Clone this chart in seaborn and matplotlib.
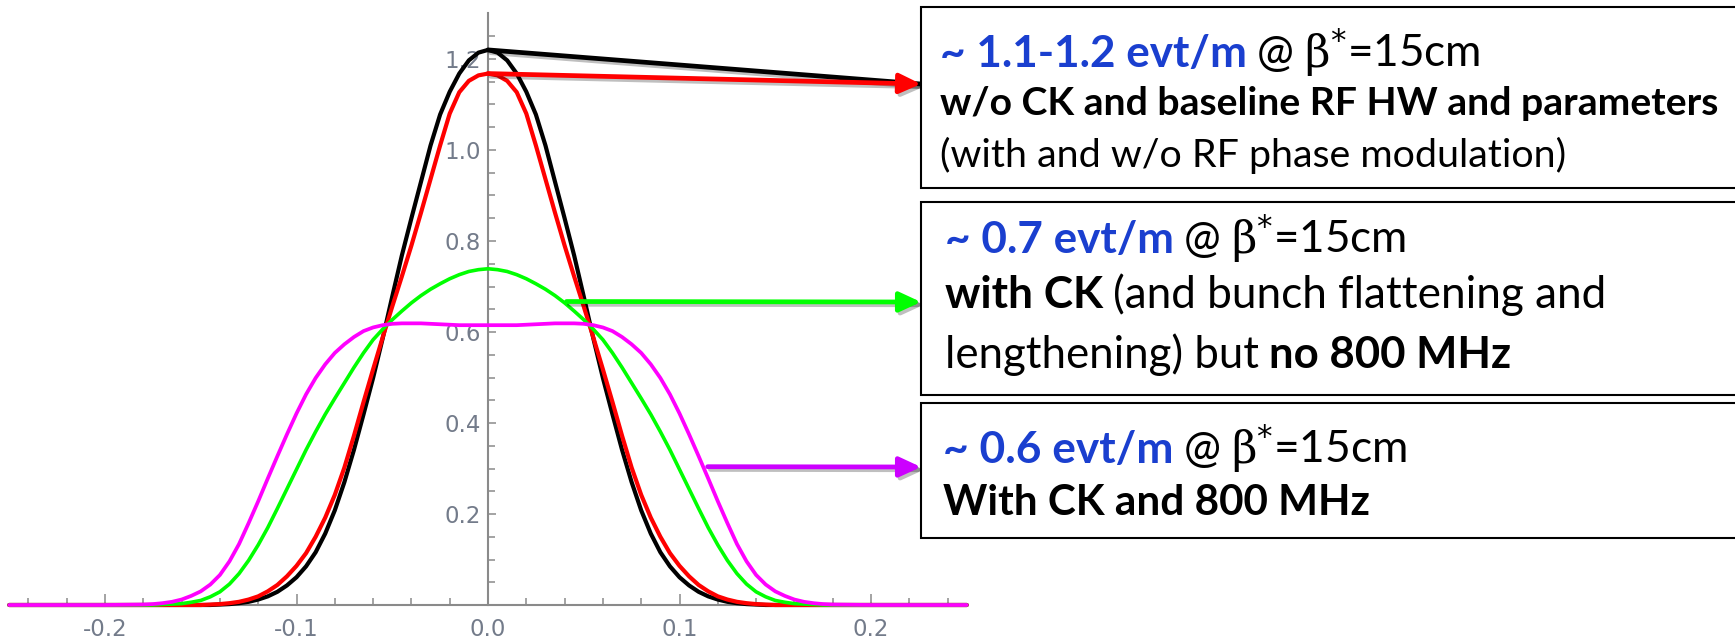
import numpy as np
import pandas as pd
import matplotlib
matplotlib.use("Agg")
import matplotlib.pyplot as plt
import matplotlib.patheffects as pe
from matplotlib.patches import Rectangle
from matplotlib.ticker import FixedLocator
import seaborn as sns

# ---------------- data ----------------
x_pos = [-0.25, -0.2,
         -0.18, -0.175, -0.17, -0.165, -0.16, -0.155, -0.15, -0.145, -0.14, -0.135,
         -0.13, -0.125, -0.12, -0.115, -0.11, -0.105, -0.1, -0.095, -0.09, -0.085,
         -0.08, -0.075, -0.07, -0.065, -0.06, -0.055, -0.05, -0.045, -0.04, -0.035,
         -0.03, -0.025, -0.02, -0.015, -0.01, -0.005, 0.0,
         0.005, 0.01, 0.015, 0.02, 0.025, 0.03, 0.035, 0.04, 0.045, 0.05,
         0.055, 0.06, 0.065, 0.07, 0.075, 0.08, 0.085, 0.09, 0.095, 0.1,
         0.105, 0.11, 0.115, 0.12, 0.125, 0.13, 0.135, 0.14, 0.145, 0.15,
         0.155, 0.16, 0.165, 0.17, 0.175, 0.18,
         0.2, 0.25]

black_no_ck = [0, 0,
               0, 0, 0, 0, 0, 0, 0, 0, 0.001, 0.002,
               0.004, 0.007, 0.012, 0.019, 0.029, 0.043, 0.061, 0.085, 0.116, 0.157,
               0.208, 0.270, 0.341, 0.419, 0.499, 0.586, 0.678, 0.768, 0.850, 0.930,
               1.010, 1.078, 1.128, 1.168, 1.197, 1.214, 1.220,
               1.214, 1.197, 1.168, 1.128, 1.078, 1.010, 0.930, 0.850, 0.768, 0.678,
               0.586, 0.499, 0.419, 0.341, 0.270, 0.208, 0.157, 0.116, 0.085, 0.061,
               0.043, 0.029, 0.019, 0.012, 0.007, 0.004, 0.002, 0.001, 0, 0,
               0, 0, 0, 0, 0, 0,
               0, 0]

red_no_ck_mod = [0, 0,
                 0, 0, 0, 0, 0, 0, 0, 0.001, 0.002, 0.004,
                 0.007, 0.012, 0.019, 0.030, 0.044, 0.063, 0.086, 0.114, 0.150, 0.192,
                 0.242, 0.302, 0.372, 0.446, 0.518, 0.588, 0.656, 0.722, 0.790, 0.862,
                 0.936, 1.010, 1.080, 1.127, 1.152, 1.164, 1.168,
                 1.164, 1.152, 1.127, 1.080, 1.010, 0.936, 0.862, 0.790, 0.722, 0.656,
                 0.588, 0.518, 0.446, 0.372, 0.302, 0.242, 0.192, 0.150, 0.114, 0.086,
                 0.063, 0.044, 0.030, 0.019, 0.012, 0.007, 0.004, 0.002, 0.001, 0,
                 0, 0, 0, 0, 0, 0,
                 0, 0]

green_ck = [0, 0,
            0.000, 0.000, 0.001, 0.002, 0.003, 0.006, 0.010, 0.018, 0.029, 0.046,
            0.069, 0.098, 0.132, 0.170, 0.212, 0.255, 0.298, 0.341, 0.381, 0.419,
            0.454, 0.488, 0.522, 0.554, 0.583, 0.606, 0.627, 0.646, 0.664, 0.680,
            0.694, 0.706, 0.717, 0.726, 0.733, 0.737, 0.739,
            0.737, 0.733, 0.726, 0.717, 0.706, 0.694, 0.680, 0.664, 0.646, 0.627,
            0.606, 0.583, 0.554, 0.522, 0.488, 0.454, 0.419, 0.381, 0.341, 0.298,
            0.255, 0.212, 0.170, 0.132, 0.098, 0.069, 0.046, 0.029, 0.018, 0.010,
            0.006, 0.003, 0.002, 0.001, 0.000, 0.000,
            0, 0]

magenta_ck_800 = [0, 0,
                  0.001, 0.002, 0.004, 0.007, 0.012, 0.020, 0.030, 0.045, 0.066, 0.096,
                  0.134, 0.180, 0.228, 0.278, 0.327, 0.375, 0.421, 0.463, 0.499, 0.529,
                  0.554, 0.573, 0.589, 0.602, 0.610, 0.615, 0.618, 0.619, 0.619, 0.619,
                  0.618, 0.617, 0.616, 0.615, 0.615, 0.615, 0.615,
                  0.615, 0.615, 0.615, 0.616, 0.617, 0.618, 0.619, 0.619, 0.619, 0.618,
                  0.615, 0.610, 0.602, 0.589, 0.573, 0.554, 0.529, 0.499, 0.463, 0.421,
                  0.375, 0.327, 0.278, 0.228, 0.180, 0.134, 0.096, 0.066, 0.045, 0.030,
                  0.020, 0.012, 0.007, 0.004, 0.002, 0.001,
                  0, 0]

x_ticks = [-0.2, -0.1, 0.0, 0.1, 0.2]
x_tick_labels = ["-0.2", "-0.1", "0.0", "0.1", "0.2"]
x_minor_ticks = [-0.24, -0.22, -0.18, -0.16, -0.14, -0.12, -0.08, -0.06, -0.04, -0.02,
                 0.02, 0.04, 0.06, 0.08, 0.12, 0.14, 0.16, 0.18, 0.22, 0.24]
y_ticks = [0.2, 0.4, 0.6, 0.8, 1.0, 1.2]
y_tick_labels = ["0.2", "0.4", "0.6", "0.8", "1.0", "1.2"]
y_minor_ticks = [0.05, 0.1, 0.15, 0.25, 0.3, 0.35, 0.45, 0.5, 0.55, 0.65, 0.7, 0.75,
                 0.85, 0.9, 0.95, 1.05, 1.1, 1.15, 1.25]

# points on the curves where the call-out arrows start
arrow_black_start = (0.0, 1.22)
arrow_red_start = (0.0, 1.168)
arrow_green_start = (0.041, 0.667)
arrow_magenta_start = (0.1147, 0.304)

# call-out box texts: (text, style, space_before)
box1_lines = [
    [("~ 1.1-1.2 evt/m", "blue", False), ("@", "reg", True), ("\u03b2", "beta", True), ("$^{*}$=15cm", "reg", False)],
    [("w/o CK and baseline RF HW and parameters", "bold", False)],
    [("(with and w/o RF phase modulation)", "reg", False)],
]
box2_lines = [
    [("~ 0.7 evt/m", "blue", False), ("@", "reg", True), ("\u03b2", "beta", True), ("$^{*}$=15cm", "reg", False)],
    [("with CK", "bold", False), ("(and bunch flattening and", "reg", True)],
    [("lengthening) but", "reg", False), ("no 800 MHz", "bold", True)],
]
box3_lines = [
    [("~ 0.6 evt/m", "blue", False), ("@", "reg", True), ("\u03b2", "beta", True), ("$^{*}$=15cm", "reg", False)],
    [("With CK and 800 MHz", "bold", False)],
]

# ---------------- style / layout ----------------
sns.set_theme(style="white")
plt.rcParams["font.family"] = ["Lato", "DejaVu Sans"]
plt.rcParams["mathtext.fontset"] = "dejavusans"

W, H, DPI = 1735, 640, 100
fig = plt.figure(figsize=(W / DPI, H / DPI), dpi=DPI, facecolor="white")

AX_W_PX = 975
X0_PX, Y0_PX = 488, 605       # pixel position of the origin
PX_PER_X, PX_PER_Y = 1915, 455
ax = fig.add_axes([0, 0, AX_W_PX / W, 1])
ax.patch.set_visible(False)
ax.set_xlim(-X0_PX / PX_PER_X, (AX_W_PX - X0_PX) / PX_PER_X)
ax.set_ylim(-(H - Y0_PX) / PX_PER_Y, Y0_PX / PX_PER_Y)

df = pd.DataFrame({"x": x_pos, "black": black_no_ck, "red": red_no_ck_mod,
                   "green": green_ck, "magenta": magenta_ck_800})
for col, color, lw in [("black", "#000000", 3.0), ("red", "#ff0000", 3.0),
                       ("green", "#00ff00", 2.6), ("magenta", "#ff00ff", 2.7)]:
    sns.lineplot(data=df, x="x", y=col, color=color, linewidth=lw, ax=ax,
                 zorder=4, legend=False, sort=False)
ax.set_xlabel("")
ax.set_ylabel("")

AXIS_GRAY = "#8a8a8a"
LABEL_GRAY = "#737b8a"
for s in ["top", "right"]:
    ax.spines[s].set_visible(False)
ax.spines["left"].set_position(("data", 0))
ax.spines["bottom"].set_position(("data", 0))
ax.spines["left"].set_bounds(0, 1.30)
ax.spines["bottom"].set_bounds(-0.25, 0.25)
for s in ["left", "bottom"]:
    ax.spines[s].set_color(AXIS_GRAY)
    ax.spines[s].set_linewidth(1.5)
    ax.spines[s].set_zorder(3)

ax.set_xticks(x_ticks, labels=x_tick_labels)
ax.xaxis.set_minor_locator(FixedLocator(x_minor_ticks))
ax.set_yticks(y_ticks, labels=y_tick_labels)
ax.yaxis.set_minor_locator(FixedLocator(y_minor_ticks))
ax.tick_params(axis="x", which="major", direction="in", length=8, width=1.1,
               color=AXIS_GRAY, pad=9, labelsize=16.5, labelcolor=LABEL_GRAY,
               bottom=True)
ax.tick_params(axis="x", which="minor", direction="in", length=4.7, width=1.1,
               color=AXIS_GRAY, bottom=True)
ax.tick_params(axis="y", which="major", direction="in", length=6, width=1.1,
               color=AXIS_GRAY, pad=5, labelsize=16.5, labelcolor=LABEL_GRAY,
               left=True)
ax.tick_params(axis="y", which="minor", direction="in", length=4.7, width=1.1,
               color=AXIS_GRAY, left=True)
for lab in ax.get_xticklabels() + ax.get_yticklabels():
    lab.set_fontfamily("DejaVu Sans")

# ---------------- call-out boxes ----------------
BOX_X = 921
for top, bottom in [(7, 188), (202, 395), (403, 538)]:
    fig.add_artist(Rectangle((BOX_X / W, 1 - bottom / H), (W + 30 - BOX_X) / W,
                             (bottom - top) / H, transform=fig.transFigure,
                             facecolor="white", edgecolor="black", linewidth=1.5,
                             zorder=2))

# ---------------- arrows ----------------
shadow = [pe.SimpleLineShadow(offset=(2, -2), shadow_color="black", alpha=0.25), pe.Normal()]
TIP_TOP = (BOX_X, H - 84)
head = "-|>,head_length=1.3,head_width=0.6"
arrows = [
    (arrow_black_start, TIP_TOP, "#000000", "-"),
    (arrow_red_start, TIP_TOP, "#ff0000", head),
    (arrow_green_start, (BOX_X, H - 302), "#00ff00", head),
    (arrow_magenta_start, (BOX_X, H - 467), "#cc00ff", head),
]
for start, tip, color, style in arrows:
    ax.annotate("", xy=tip, xycoords="figure pixels", xytext=start, textcoords="data",
                annotation_clip=False, zorder=6,
                arrowprops=dict(arrowstyle=style, color=color, lw=3.4, shrinkA=0,
                                shrinkB=0, mutation_scale=10, path_effects=shadow))

# ---------------- box texts ----------------
BLUE = "#1a3fcf"
STYLE = {
    "blue": dict(color=BLUE, fontweight="bold", family=["Lato", "DejaVu Sans"]),
    "reg": dict(color="black", fontweight="normal", family=["Lato", "DejaVu Sans"]),
    "bold": dict(color="black", fontweight="bold", family=["Lato", "DejaVu Sans"]),
    "beta": dict(color="black", fontweight="normal", family=["DejaVu Serif"]),
}
SPACE_EM = 0.23
renderer = fig.canvas.get_renderer()


def place_line(x_px, base_px, pieces, size):
    x = x_px
    texts = []
    for txt, kind, lead in pieces:
        if lead:
            x += SPACE_EM * size * DPI / 72
        t = fig.text(x / W, 1 - base_px / H, txt, fontsize=size, ha="left",
                     va="baseline", zorder=7, **STYLE[kind])
        x = t.get_window_extent(renderer).x1
        texts.append(t)
    return x - x_px, texts


def fit_size(pieces, target_px, trial=20.0):
    w, ts = place_line(0, 100, pieces, trial)
    for t in ts:
        t.remove()
    return trial * target_px / w


# (lines, left x, baselines, target line widths in px)
layout = [
    (box1_lines, 940, [67, 115, 167], [543, 777, 628]),
    (box2_lines, 945, [253, 308, 368], [463, 663, 567]),
    (box3_lines, 943, [463, 515], [465, 428]),
]
for lines, x0, bases, widths in layout:
    for pieces, base, wpx in zip(lines, bases, widths):
        place_line(x0, base, pieces, fit_size(pieces, wpx))

fig.savefig("out.png", dpi=DPI, facecolor="white")
